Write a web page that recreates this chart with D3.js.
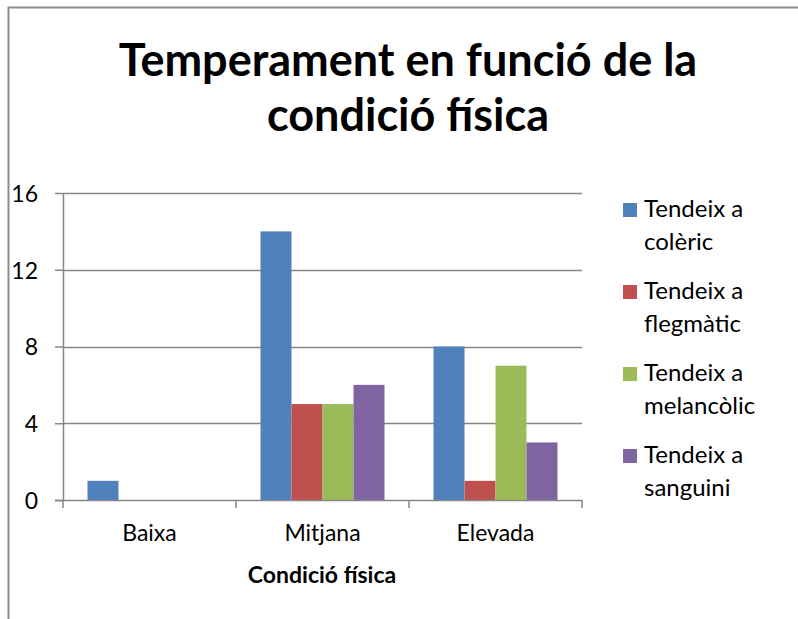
<!DOCTYPE html>
<html>
<head>
<meta charset="utf-8">
<script src="https://cdn.jsdelivr.net/npm/d3@7"></script>
<style>
  body { margin: 0; background: #fff; }
  text { font-family: Lato, "Open Sans", sans-serif; fill: #000; }
</style>
</head>
<body>
<svg id="chart" width="798" height="619"></svg>
<script>
// data
const categories = ["Baixa", "Mitjana", "Elevada"];
const seriesNames = ["Tendeix a colèric", "Tendeix a flegmàtic", "Tendeix a melancòlic", "Tendeix a sanguini"];
const colerica = [1, 14, 8];
const flegmatic = [0, 5, 1];
const melancolic = [0, 5, 7];
const sanguini = [0, 6, 3];
const yTicks = [0, 4, 8, 12, 16];

const seriesValues = [colerica, flegmatic, melancolic, sanguini];
const colors = ["#4F81BD", "#C0504D", "#9BBB59", "#8064A2"];

const svg = d3.select("#chart");

// outer chart frame (cropped at right/bottom)
svg.append("path")
    .attr("d", "M8.5,619 L8.5,7.5 L798,7.5")
    .attr("fill", "none")
    .attr("stroke", "#8c8c8c")
    .attr("stroke-width", 2);

// title
const title = svg.append("text")
    .attr("text-anchor", "middle")
    .attr("font-weight", "bold")
    .attr("font-size", 45);
title.append("tspan").attr("x", 408).attr("y", 76).text("Temperament en funció de la");
title.append("tspan").attr("x", 408).attr("y", 131).text("condició física");

const margin = { top: 193, left: 63 };
const width = 519, height = 307;

const chart = svg.append("g")
    .attr("transform", `translate(${margin.left},${margin.top})`);

const x0 = d3.scaleBand()
    .domain(categories)
    .range([0, width])
    .paddingInner(0)
    .paddingOuter(0);

const x1 = d3.scaleBand()
    .domain(d3.range(seriesNames.length))
    .range([24.5, x0.bandwidth() - 24.5])
    .padding(0);

const y = d3.scaleLinear()
    .domain([0, 16])
    .range([height, 0]);

// gridlines
chart.append("g")
    .selectAll("line")
    .data(yTicks.filter(t => t > 0))
    .join("line")
    .attr("x1", 0)
    .attr("x2", width)
    .attr("y1", d => Math.round(y(d)) + 0.5)
    .attr("y2", d => Math.round(y(d)) + 0.5)
    .attr("stroke", "#868686")
    .attr("stroke-width", 1.5);

// bars
const groups = chart.selectAll(".grp")
    .data(categories)
    .join("g")
    .attr("class", "grp")
    .attr("transform", d => `translate(${x0(d)},0)`);

groups.selectAll("rect")
    .data((c, ci) => seriesValues.map((vals, si) => ({ si, v: vals[ci] })))
    .join("rect")
    .attr("x", d => x1(d.si))
    .attr("y", d => y(d.v))
    .attr("width", x1.bandwidth())
    .attr("height", d => height - y(d.v))
    .attr("fill", d => colors[d.si]);

// y axis
const yAxis = chart.append("g")
    .call(d3.axisLeft(y).tickValues(yTicks).tickSize(8).tickPadding(17));
yAxis.selectAll("text").attr("font-size", 23).attr("dy", "0.36em");

// x axis
const xAxis = chart.append("g")
    .attr("transform", `translate(0,${height})`)
    .call(d3.axisBottom(x0).tickSize(0).tickPadding(25));
xAxis.selectAll("text").attr("font-size", 23).attr("dy", "0.71em");

// category boundary ticks
xAxis.selectAll(".bound")
    .data(d3.range(categories.length + 1))
    .join("line")
    .attr("class", "bound")
    .attr("x1", i => i * x0.bandwidth())
    .attr("x2", i => i * x0.bandwidth())
    .attr("y1", 0)
    .attr("y2", 8);

chart.selectAll(".domain, .tick line, .bound")
    .attr("stroke", "#868686")
    .attr("stroke-width", 1.5);
yAxis.select(".domain").attr("d", `M0.5,0V${height}`);
xAxis.select(".domain").attr("d", `M-8,0.5H${width}`);

// x axis title
svg.append("text")
    .attr("x", 322)
    .attr("y", 583)
    .attr("text-anchor", "middle")
    .attr("font-weight", "bold")
    .attr("font-size", 23)
    .text("Condició física");

// legend
const legend = svg.append("g")
    .attr("transform", "translate(623,203)");

seriesNames.forEach((name, i) => {
    const row = legend.append("g")
        .attr("transform", `translate(0, ${i * 82})`);
    row.append("rect")
        .attr("width", 14)
        .attr("height", 14)
        .attr("fill", colors[i]);
    const parts = name.split(" ");
    const t = row.append("text").attr("font-size", 24);
    t.append("tspan").attr("x", 21).attr("y", 14).text(parts.slice(0, 2).join(" "));
    t.append("tspan").attr("x", 21).attr("y", 47).text(parts.slice(2).join(" "));
});
</script>
</body>
</html>
